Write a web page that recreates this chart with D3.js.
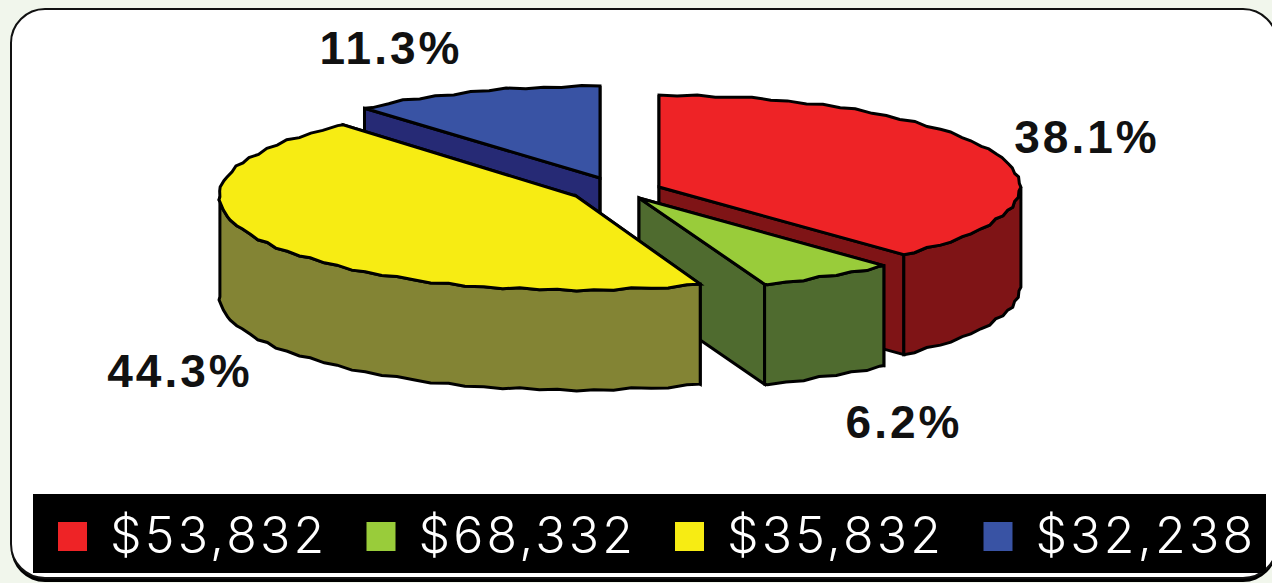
<!DOCTYPE html>
<html>
<head>
<meta charset="utf-8">
<style>
  html, body { margin: 0; padding: 0; background: #F1F6EC; overflow: hidden; }
</style>
</head>
<body>
<div id="chart-area"></div>
<script src="https://cdn.jsdelivr.net/npm/d3@7"></script>
<script>
const WIDTH = 1272
const HEIGHT = 583

// data
const incomes = ["$53,832", "$68,332", "$35,832", "$32,238"]
const shares = [38.1, 6.2, 44.3, 11.3]
const topColors = ["#EE2326", "#99CC3A", "#F7EC13", "#3953A4"]
const sideColors = ["#7F1416", "#4F6B2F", "#838434", "#262A75"]

// layout: tip and radii of each pulled out slice, and its label
const TIPS = [[659, 187], [639, 198], [576, 196], [600, 178]]
const RADII = [[361, 92], [361, 92], [357, 94], [361, 92]]
const LABELS = [[1087, 153], [904, 438], [180, 387], [391, 64]]
const DEPTH = 100
const STEP = Math.PI / 60

// the rim of the original is a bit ragged
const rimWobble = [0, 0.8, -0.5, 1, 0.2, -0.9, 0.6, -0.2, 1, -0.6, 0.3, -1, 0.7]

const svg = d3.select("#chart-area").append("svg")
  .attr("width", WIDTH)
  .attr("height", HEIGHT)
  .style("display", "block")

// Panel
svg.append("rect")
  .attr("x", 11).attr("y", 13)
  .attr("width", 1266).attr("height", 569)
  .attr("rx", 34)
  .attr("fill", "#000")

svg.append("rect")
  .attr("x", 11).attr("y", 9)
  .attr("width", 1266).attr("height", 569)
  .attr("rx", 34)
  .attr("fill", "#fff")
  .attr("stroke", "#111")
  .attr("stroke-width", 2)

// Pie
const x = d3.scaleLinear().domain([-1, 1])
const y = d3.scaleLinear().domain([-1, 1])

const pie = d3.pie().sort(null)
const slices = pie(shares).map((d, i) => ({
  ...d,
  tip: TIPS[i],
  radii: RADII[i],
  top: topColors[i],
  side: sideColors[i]
}))

const line = d3.line().curve(d3.curveLinear)

// no wobble on the slice corners, those stay sharp
const wobbleAt = (a, shift) => {
  const n = rimWobble.length
  const k = Math.round(a / STEP)
  if (Math.abs(a / STEP - k) > 1e-6 || k === 0 || k === 120) return 0
  return rimWobble[(k + shift) % n]
}

const rimPoint = (s, a, drop = 0) => {
  x.range([-s.radii[0], s.radii[0]])
  y.range([-s.radii[1], s.radii[1]])
  return [
    s.tip[0] + x(Math.sin(a)) + 0.9 * wobbleAt(a, 4),
    s.tip[1] + y(-Math.cos(a)) + drop + 1.1 * wobbleAt(a, 0)
  ]
}

const rimAngles = (a0, a1) => {
  const out = [a0]
  for (let k = Math.ceil(a0 / STEP); k * STEP < a1; k++) {
    if (k * STEP > a0) out.push(k * STEP)
  }
  out.push(a1)
  return out
}

const g = svg.append("g")
  .attr("stroke", "#000")
  .attr("stroke-width", 3)
  .attr("stroke-linejoin", "miter")

// back to front: blue, red, green, yellow
const order = [3, 0, 1, 2]
order.forEach(i => {
  const s = slices[i]
  const cut = a => [
    s.tip,
    rimPoint(s, a),
    rimPoint(s, a, DEPTH),
    [s.tip[0], s.tip[1] + DEPTH]
  ]

  // cut faces
  g.append("path").attr("d", line(cut(s.startAngle)) + "Z").attr("fill", s.side)
  g.append("path").attr("d", line(cut(s.endAngle)) + "Z").attr("fill", s.side)

  // outer wall, only the part that faces us
  const a0 = Math.max(s.startAngle, Math.PI / 2)
  const a1 = Math.min(s.endAngle, Math.PI * 1.5)
  if (a1 > a0) {
    const upper = rimAngles(a0, a1).map(a => rimPoint(s, a))
    const lower = rimAngles(a0, a1).reverse().map(a => rimPoint(s, a, DEPTH))
    g.append("path").attr("d", line(upper.concat(lower)) + "Z").attr("fill", s.side)
  }

  // top
  const rim = rimAngles(s.startAngle, s.endAngle).map(a => rimPoint(s, a))
  g.append("path").attr("d", line([s.tip].concat(rim)) + "Z").attr("fill", s.top)
})

// Percent labels
svg.append("g").selectAll("text")
  .data(shares)
  .enter().append("text")
    .attr("x", (d, i) => LABELS[i][0])
    .attr("y", (d, i) => LABELS[i][1])
    .attr("text-anchor", "middle")
    .attr("font-family", "Liberation Sans")
    .attr("font-weight", "bold")
    .attr("font-size", "46px")
    .attr("letter-spacing", "3px")
    .attr("fill", "#111")
    .text(d => d.toFixed(1) + "%")

// Legend
const legend = svg.append("g")
legend.append("rect")
  .attr("x", 33).attr("y", 494)
  .attr("width", 1233).attr("height", 79)
  .attr("fill", "#000")

const legendX = d3.scaleBand()
  .domain(incomes)
  .range([58, 1292])

const items = legend.selectAll("g.item")
  .data(incomes)
  .enter().append("g")
    .attr("class", "item")
    .attr("transform", d => `translate(${legendX(d)}, 0)`)

items.append("rect")
  .attr("y", 522)
  .attr("width", 29).attr("height", 29)
  .attr("fill", (d, i) => topColors[i])

items.append("text")
  .attr("x", 52)
  .attr("y", 553)
  .attr("font-family", "Inter")
  .attr("font-weight", 350)
  .attr("font-size", "50px")
  .attr("letter-spacing", "3.2px")
  .attr("fill", "#fff")
  .text(d => d)
</script>
</body>
</html>
